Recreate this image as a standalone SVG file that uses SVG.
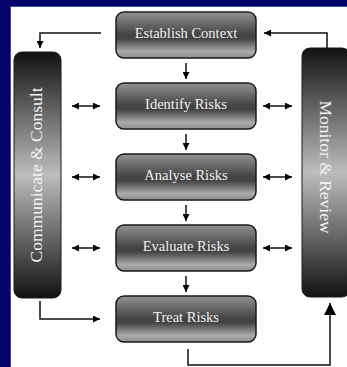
<svg xmlns="http://www.w3.org/2000/svg" width="347" height="367" viewBox="0 0 347 367">
<defs>
<linearGradient id="boxGrad" x1="0" y1="0" x2="0" y2="1">
<stop offset="0" stop-color="#929292"/>
<stop offset="0.48" stop-color="#454545"/>
<stop offset="0.58" stop-color="#434343"/>
<stop offset="0.86" stop-color="#ababab"/>
<stop offset="1" stop-color="#8e8e8e"/>
</linearGradient>
<linearGradient id="barGrad" x1="0" y1="0" x2="0" y2="1">
<stop offset="0" stop-color="#121212"/>
<stop offset="0.5" stop-color="#bdbdbd"/>
<stop offset="1" stop-color="#121212"/>
</linearGradient>
<marker id="ah" viewBox="0 0 10 10" refX="10" refY="5" markerUnits="userSpaceOnUse" markerWidth="7" markerHeight="7" orient="auto-start-reverse">
<path d="M0,0 L10,5 L0,10 z" fill="#000"/>
</marker>
<marker id="ahBig" viewBox="0 0 10 10" refX="10" refY="5" markerUnits="userSpaceOnUse" markerWidth="13" markerHeight="12" orient="auto">
<path d="M0,0 L10,5 L0,10 z" fill="#000"/>
</marker>
</defs>
<style>
.box{fill:url(#boxGrad);stroke:#1a1a1a;stroke-width:1.5}
.bar{fill:url(#barGrad);stroke:#1a1a1a;stroke-width:1}
.lbl{font-family:"Liberation Serif","Times New Roman",serif;font-size:14.5px;fill:#f2f2f2;text-anchor:middle;dominant-baseline:central}
.blbl{font-family:"Liberation Serif","Times New Roman",serif;font-size:17.5px;fill:#f2f2f2;text-anchor:middle;dominant-baseline:central}
.ln{fill:none;stroke:#111;stroke-width:1.5}
</style>
<rect x="0" y="0" width="347" height="367" fill="#03036a"/>
<rect x="10.5" y="6.5" width="340" height="365" fill="#ffffff" stroke="#4a4aa8" stroke-width="1"/>

<g id="communicate">
<rect class="bar" x="14" y="52" width="47" height="246" rx="8"/>
<text class="blbl" transform="translate(36,175) rotate(-90)">Communicate &amp; Consult</text>
</g>
<g id="monitor">
<rect class="bar" x="302" y="48" width="48" height="249" rx="8"/>
<text class="blbl" transform="translate(326,167) rotate(90)">Monitor &amp; Review</text>
</g>

<g id="establish">
<rect class="box" x="116" y="12" width="140" height="46" rx="8"/>
<text class="lbl" x="186" y="32.5">Establish Context</text>
</g>
<g id="identify">
<rect class="box" x="116" y="83" width="140" height="46" rx="8"/>
<text class="lbl" x="186" y="103.5">Identify Risks</text>
</g>
<g id="analyse">
<rect class="box" x="116" y="154" width="140" height="46" rx="8"/>
<text class="lbl" x="186" y="174.5">Analyse Risks</text>
</g>
<g id="evaluate">
<rect class="box" x="116" y="225" width="140" height="46" rx="8"/>
<text class="lbl" x="186" y="245.5">Evaluate Risks</text>
</g>
<g id="treat">
<rect class="box" x="116" y="296" width="140" height="46" rx="8"/>
<text class="lbl" x="186" y="316.5">Treat Risks</text>
</g>

<g id="connectors">
<line class="ln" x1="186" y1="63" x2="186" y2="79" marker-end="url(#ah)"/>
<line class="ln" x1="186" y1="134" x2="186" y2="150" marker-end="url(#ah)"/>
<line class="ln" x1="186" y1="205" x2="186" y2="221" marker-end="url(#ah)"/>
<line class="ln" x1="186" y1="276" x2="186" y2="292" marker-end="url(#ah)"/>

<line class="ln" x1="72" y1="106" x2="100" y2="106" marker-start="url(#ah)" marker-end="url(#ah)"/>
<line class="ln" x1="72" y1="177" x2="100" y2="177" marker-start="url(#ah)" marker-end="url(#ah)"/>
<line class="ln" x1="72" y1="248" x2="100" y2="248" marker-start="url(#ah)" marker-end="url(#ah)"/>
<line class="ln" x1="263" y1="106" x2="292" y2="106" marker-start="url(#ah)" marker-end="url(#ah)"/>
<line class="ln" x1="263" y1="177" x2="292" y2="177" marker-start="url(#ah)" marker-end="url(#ah)"/>
<line class="ln" x1="263" y1="248" x2="292" y2="248" marker-start="url(#ah)" marker-end="url(#ah)"/>

<polyline class="ln" points="101,33 40,33 40,48" marker-end="url(#ah)"/>
<polyline class="ln" points="327,48 327,33 264,33" marker-end="url(#ah)"/>
<polyline class="ln" points="40,301 40,319 100,319" marker-end="url(#ah)"/>
<polyline class="ln" points="188,349 188,365 330,365 330,303" marker-end="url(#ahBig)"/>
</g>
</svg>
